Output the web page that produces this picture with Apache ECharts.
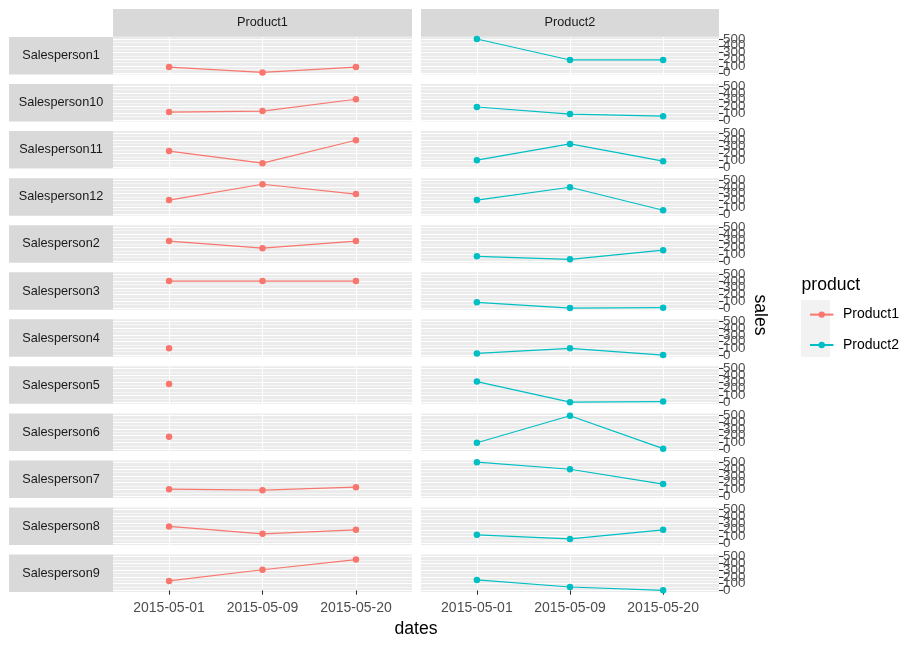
<!DOCTYPE html>
<html><head><meta charset="utf-8">
<script src="https://cdn.jsdelivr.net/npm/echarts@6/dist/echarts.min.js"></script>
<style>html,body{margin:0;padding:0;background:#fff}#c{width:921px;height:648px}</style>
</head><body><div id="c"></div>
<script>
// ---- data ----
const salespersons = ['Salesperson1','Salesperson10','Salesperson11','Salesperson12','Salesperson2','Salesperson3',
  'Salesperson4','Salesperson5','Salesperson6','Salesperson7','Salesperson8','Salesperson9'];
const dates = ['2015-05-01','2015-05-09','2015-05-20'];
const products = ['Product1','Product2'];
const product1Sales = [
  [85, 5, 85],
  [115, 130, 305],
  [235, 55, 395],
  [205, 440, 295],
  [295, 190, 295],
  [400, 400, 400],
  [100, null, null],
  [270, null, null],
  [185, null, null],
  [105, 90, 135],
  [250, 140, 200],
  [140, 305, 455]
];
const product2Sales = [
  [500, 190, 190],
  [190, 85, 55],
  [100, 340, 85],
  [205, 395, 55],
  [70, 25, 160],
  [85, 0, 5],
  [25, 100, 0],
  [305, 0, 8],
  [95, 495, 8],
  [505, 400, 180],
  [125, 65, 200],
  [155, 50, 0]
];
const yMajorTicks = [0, 100, 200, 300, 400, 500];
const yMinorLines = [50, 150, 250, 350, 450];
const xTickPositions = [1, 2, 3];
const productColors = ['#F8766D', '#00BFC4'];

// ---- layout ----
const FONT = "'Liberation Sans', Arial, sans-serif";
const colLeft = [113, 421], colWidth = [299, 298];
const top0 = 37, pitch = 47.05, panelH = 37.5;
const stripLeft = 9, stripW = 104;
const yMin = -25, yMax = 530;

const allSales = [product1Sales, product2Sales];
const grid = [], xAxis = [], yAxis = [], series = [], graphic = [];
const nRows = salespersons.length;
// split the major ticks into non-overlapping groups so that every label is kept (ggplot prints all of them)
const labelGroups = [0, 1, 2].map(k => yMajorTicks.filter((t, i) => i % 3 === k));

salespersons.forEach((sp, r) => {
  const top = top0 + pitch * r;
  const bottomRow = r === nRows - 1;
  graphic.push({type: 'rect', shape: {x: stripLeft, y: top, width: stripW, height: panelH}, style: {fill: '#D9D9D9'}, silent: true});
  graphic.push({type: 'text', x: stripLeft + stripW / 2, y: top + panelH / 2,
    style: {text: sp, fill: '#1A1A1A', font: '12.7px ' + FONT, align: 'center', verticalAlign: 'middle'}, silent: true});
  products.forEach((p, c) => {
    const g = grid.length;
    grid.push({left: colLeft[c], top: top, width: colWidth[c], height: panelH, show: true,
      backgroundColor: '#EBEBEB', borderWidth: 0, containLabel: false});
    xAxis.push({type: 'value', gridIndex: g, min: 0.4, max: 3.6,
      axisLine: {show: false},
      axisTick: {show: bottomRow, customValues: xTickPositions, length: 4.4, lineStyle: {color: '#333333', width: 1.07}},
      axisLabel: {show: bottomRow, customValues: xTickPositions, margin: 9, color: '#4D4D4D', fontSize: 14, fontFamily: FONT,
        formatter: v => dates[Math.round(v) - 1]},
      splitLine: {show: true, lineStyle: {color: '#FFFFFF', width: 1.07}}
    });
    // minor grid lines
    yAxis.push({type: 'value', gridIndex: g, min: yMin, max: yMax, position: 'left',
      axisLine: {show: false},
      axisTick: {show: false, customValues: yMinorLines},
      axisLabel: {show: false, customValues: yMinorLines},
      splitLine: {show: true, lineStyle: {color: '#FFFFFF', width: 0.55}}
    });
    // major grid lines (series axis)
    const seriesAxis = yAxis.length;
    yAxis.push({type: 'value', gridIndex: g, min: yMin, max: yMax, position: 'right',
      axisLine: {show: false},
      axisTick: {show: false, customValues: yMajorTicks},
      axisLabel: {show: false, customValues: yMajorTicks},
      splitLine: {show: true, lineStyle: {color: '#FFFFFF', width: 1.07}}
    });
    if (c === 1) {
      labelGroups.forEach(vals => {
        yAxis.push({type: 'value', gridIndex: g, min: yMin, max: yMax, position: 'right',
          axisLine: {show: false},
          axisTick: {show: true, customValues: vals, length: 4.4, lineStyle: {color: '#333333', width: 1.07}},
          axisLabel: {show: true, customValues: vals, margin: 4, color: '#4D4D4D', fontSize: 13.4, fontFamily: FONT,
            showMinLabel: true, showMaxLabel: true},
          splitLine: {show: false}
        });
      });
    }
    const vals = allSales[c][r];
    const data = [];
    vals.forEach((v, i) => { if (v !== null) data.push([xTickPositions[i], v]); });
    series.push({type: 'line', name: p, xAxisIndex: g, yAxisIndex: seriesAxis, data: data,
      symbol: 'circle', symbolSize: 6.5, showSymbol: true,
      lineStyle: {color: productColors[c], width: 1.2},
      itemStyle: {color: productColors[c]},
      emphasis: {disabled: true}, animation: false, z: 3});
  });
});

products.forEach((p, c) => {
  graphic.push({type: 'rect', shape: {x: colLeft[c], y: 9, width: colWidth[c], height: 27.7}, style: {fill: '#D9D9D9'}, silent: true});
  graphic.push({type: 'text', x: colLeft[c] + colWidth[c] / 2, y: 9 + 27.7 / 2,
    style: {text: p, fill: '#1A1A1A', font: '12.7px ' + FONT, align: 'center', verticalAlign: 'middle'}, silent: true});
});
// axis titles
graphic.push({type: 'text', x: 416, y: 629, style: {text: 'dates', fill: '#000', font: '17.6px ' + FONT, align: 'center', verticalAlign: 'middle'}, silent: true});
graphic.push({type: 'text', x: 760, y: 315, rotation: -Math.PI / 2,
  style: {text: 'sales', fill: '#000', font: '17.6px ' + FONT, align: 'center', verticalAlign: 'middle'}, silent: true});
// legend title and key background
graphic.push({type: 'text', x: 801.5, y: 285, style: {text: 'product', fill: '#000', font: '17.6px ' + FONT, align: 'left', verticalAlign: 'middle'}, silent: true});
graphic.push({type: 'rect', shape: {x: 801, y: 300, width: 29, height: 57}, style: {fill: '#F2F2F2'}, silent: true, z: -1});

const chart = echarts.init(document.getElementById('c'), null, {renderer: 'canvas'});
chart.setOption({
  animation: false,
  backgroundColor: '#FFFFFF',
  grid, xAxis, yAxis, series,
  graphic: {elements: graphic},
  legend: {data: products, orient: 'vertical', left: 804, top: 302.6, itemWidth: 23.4, itemHeight: 8, itemGap: 16.4,
    selectedMode: false, z: 10,
    textStyle: {color: '#000', fontSize: 14, fontFamily: FONT, padding: [0, 0, 0, 4.6]}},
  tooltip: {show: false}
});
</script></body></html>
